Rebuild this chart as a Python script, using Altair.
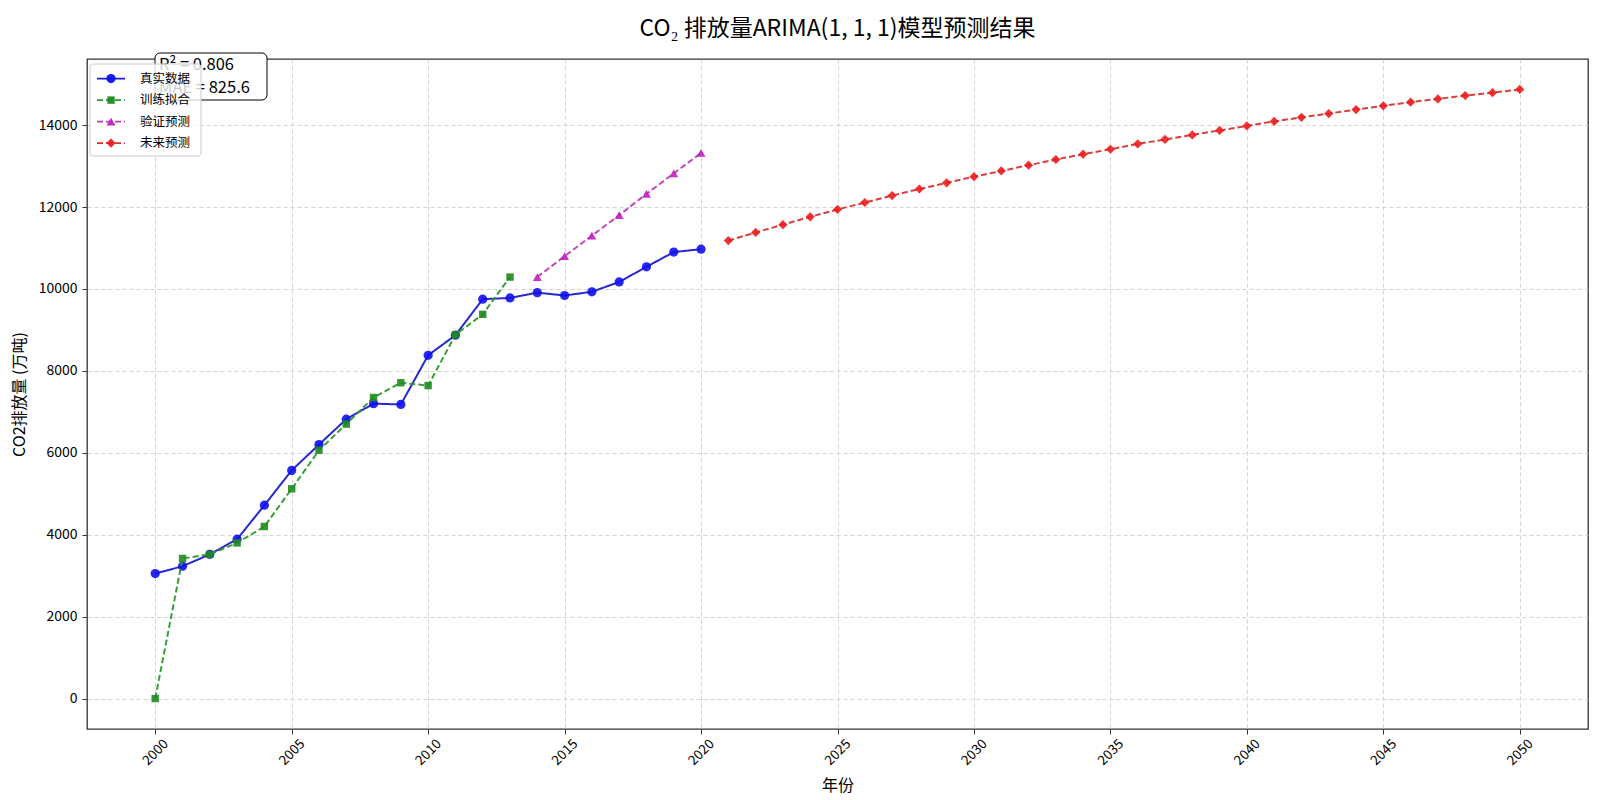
import altair as alt
import pandas as pd

FONT = "Noto Sans CJK SC"

# ---------------- data ----------------
real_years = list(range(2000, 2021))
real_values = [3050, 3230, 3520, 3890, 4720, 5570, 6200, 6820, 7200, 7180,
               8380, 8870, 9750, 9780, 9910, 9840, 9930, 10170, 10540, 10900, 10970]

train_years = list(range(2000, 2014))
train_values = [0, 3420, 3520, 3800, 4200, 5120, 6060, 6700, 7350, 7710,
                7640, 8880, 9380, 10290]

val_years = list(range(2014, 2021))
val_values = [10290, 10800, 11300, 11800, 12320, 12820, 13320]

future_years = list(range(2021, 2051))
future_values = [11180, 11380, 11570, 11760, 11940, 12110, 12280, 12440, 12590, 12740,
                 12880, 13020, 13160, 13290, 13410, 13540, 13650, 13760, 13870, 13980,
                 14090, 14190, 14280, 14380, 14470, 14560, 14640, 14720, 14790, 14870]

series_names = ["真实数据", "训练拟合", "验证预测", "未来预测"]
line_colors = ["#1c1cd0", "#2e9a2e", "#c03cc0", "#d83434"]
point_colors = ["#1010f0", "#1f8a1f", "#c020c0", "#f01c1c"]
shapes = ["circle", "square", "triangle-up", "diamond"]
dashes = [[1, 0], [6, 3], [6, 3], [6, 3]]
point_sizes = [85, 55, 80, 85]

x_ticks = list(range(2000, 2051, 5))
y_ticks = list(range(0, 14001, 2000))

r2_text = "R² = 0.806"
mae_text = "MAE = 825.6"

# ---------------- table ----------------
frames = []
for name, yrs, vals in [
    (series_names[0], real_years, real_values),
    (series_names[1], train_years, train_values),
    (series_names[2], val_years, val_values),
    (series_names[3], future_years, future_values),
]:
    frames.append(pd.DataFrame({"year": yrs, "value": vals, "series": name}))
df = pd.concat(frames, ignore_index=True)

W, H = 1501, 670

x_enc = alt.X("year:Q",
              scale=alt.Scale(domain=[1997.5, 2052.5], nice=False, zero=False),
              axis=alt.Axis(values=x_ticks, format="d", title="年份",
                            labelAngle=-45, labelAlign="center", labelBaseline="middle",
                            labelPadding=18, labelFontSize=13.5, titleY=56,
                            titleBaseline="middle", titleFontSize=16,
                            titleFontWeight="normal"))
y_enc = alt.Y("value:Q",
              scale=alt.Scale(domain=[-743.5, 15613.5], nice=False, zero=False),
              axis=alt.Axis(values=y_ticks, format="d", title="CO2排放量 (万吨)",
                            labelFontSize=14, titleX=-68, titleY=H / 2,
                            titleAlign="center", titleBaseline="middle",
                            titleFontSize=16, titleFontWeight="normal", labelPadding=5))

layers = []
for i, name in enumerate(series_names):
    sub = df[df["series"] == name]
    base = alt.Chart(sub)
    line = base.mark_line(color=line_colors[i], strokeWidth=2,
                          strokeDash=dashes[i], opacity=0.95).encode(x=x_enc, y=y_enc)
    pts = base.mark_point(shape=shapes[i], filled=True, color=point_colors[i],
                          size=point_sizes[i], opacity=0.9).encode(x=x_enc, y=y_enc)
    layers += [line, pts]

one = alt.Data(values=[{"k": 0}])

# annotation box (R², MAE)
ann_box = alt.Chart(one).mark_rect(fill="white", stroke="black", strokeWidth=1,
                                   cornerRadius=5).encode(
    x=alt.value(68), x2=alt.value(180), y=alt.value(-6), y2=alt.value(41))
ann_t1 = alt.Chart(one).mark_text(align="left", baseline="middle", fontSize=16.5,
                                  font=FONT, color="black").encode(
    x=alt.value(72), y=alt.value(6), text=alt.value(r2_text))
ann_t2 = alt.Chart(one).mark_text(align="left", baseline="middle", fontSize=16.5,
                                  font=FONT, color="black").encode(
    x=alt.value(72), y=alt.value(29), text=alt.value(mae_text))
layers += [ann_box, ann_t1, ann_t2]

# legend
leg_box = alt.Chart(one).mark_rect(fill="white", fillOpacity=0.8, stroke="#cccccc",
                                   strokeWidth=1, cornerRadius=3).encode(
    x=alt.value(3), x2=alt.value(114), y=alt.value(5), y2=alt.value(97))
layers.append(leg_box)
for i, name in enumerate(series_names):
    yy = 19.6 + i * 21.5
    layers.append(alt.Chart(one).mark_rule(color=line_colors[i], strokeWidth=1.8,
                                           strokeDash=dashes[i]).encode(
        x=alt.value(10), x2=alt.value(38), y=alt.value(yy)))
    layers.append(alt.Chart(one).mark_point(shape=shapes[i], filled=True,
                                            color=point_colors[i], size=point_sizes[i],
                                            opacity=0.95).encode(
        x=alt.value(24), y=alt.value(yy)))
    layers.append(alt.Chart(one).mark_text(align="left", baseline="middle", fontSize=12.5,
                                           font=FONT, color="black").encode(
        x=alt.value(53), y=alt.value(yy), text=alt.value(name)))

chart = alt.layer(*layers).properties(
    width=W, height=H,
    background="white",
    title=alt.TitleParams("CO₂ 排放量ARIMA(1, 1, 1)模型预测结果", fontSize=23,
                          font=FONT, fontWeight="normal", anchor="middle",
                          offset=12, color="black"),
    autosize=alt.AutoSizeParams(type="none"),
    padding={"left": 79, "top": 51, "right": 4, "bottom": 70},
).configure_view(
    stroke="#333333", strokeWidth=1.3
).configure_axis(
    labelFont=FONT, titleFont=FONT, labelFontSize=13, labelColor="black",
    titleColor="black", domain=False, tickColor="#333333", tickSize=5, tickWidth=1,
    grid=True, gridColor="#c8c8c8", gridDash=[4, 3], gridWidth=0.8,
)

chart.save("out.html", embed_options={"renderer": "svg", "actions": False})
